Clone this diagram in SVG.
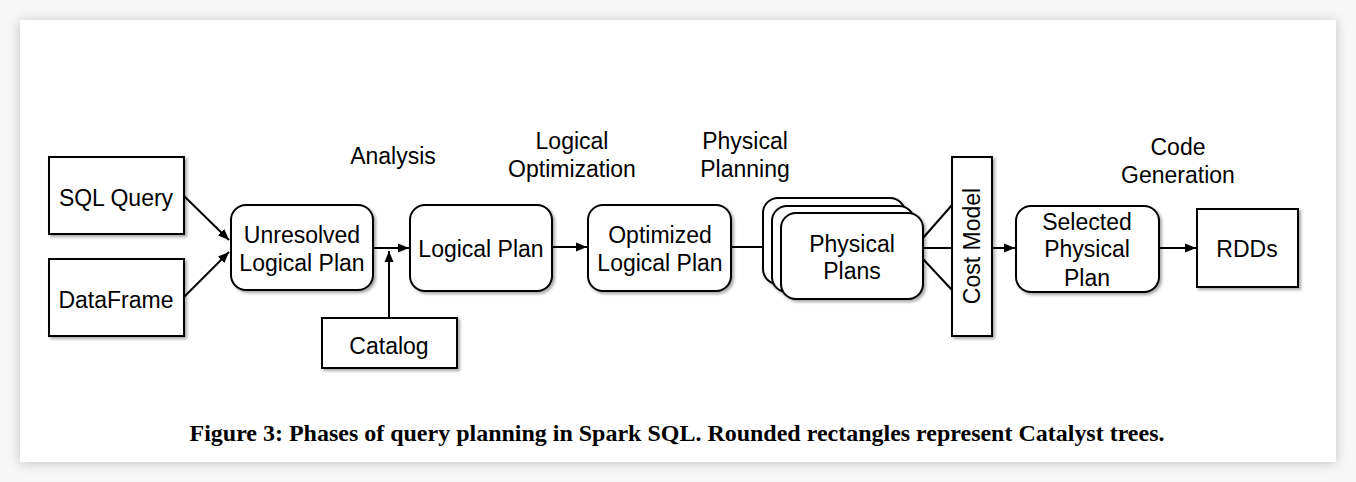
<svg xmlns="http://www.w3.org/2000/svg" width="1356" height="482" viewBox="0 0 1356 482">
<defs>
<filter id="card" x="-5%" y="-10%" width="110%" height="120%"><feDropShadow dx="0" dy="1" stdDeviation="6" flood-color="#000" flood-opacity="0.22"/></filter>
<filter id="sh" x="-10%" y="-10%" width="130%" height="130%"><feDropShadow dx="2" dy="2" stdDeviation="1.5" flood-color="#000" flood-opacity="0.35"/></filter>
<marker id="ah" viewBox="0 0 11 10" refX="11" refY="5" markerWidth="11" markerHeight="10" markerUnits="userSpaceOnUse" orient="auto"><path d="M0,0.5 L11,5 L0,9.5 z" fill="#000"/></marker>
</defs>
<style>
.b{fill:#fff;stroke:#000;stroke-width:2;filter:url(#sh)}
.t{font-family:"Liberation Sans",Arial,sans-serif;font-size:23px;fill:#000;text-anchor:middle}
.c{stroke:#000;stroke-width:2;fill:none}
.a{stroke:#000;stroke-width:2;fill:none;marker-end:url(#ah)}
.cap{font-family:"Liberation Serif","Times New Roman",serif;font-weight:bold;font-size:23px;text-anchor:middle;fill:#000}
</style>
<rect width="1356" height="482" fill="#f7f7f7"/>
<rect x="20" y="20" width="1316" height="442" fill="#fff" filter="url(#card)"/>
<g id="labels">
<text class="t" x="393" y="164">Analysis</text>
<text class="t" x="572" y="149">Logical</text>
<text class="t" x="572" y="177">Optimization</text>
<text class="t" x="745" y="149">Physical</text>
<text class="t" x="745" y="177">Planning</text>
<text class="t" x="1178" y="155">Code</text>
<text class="t" x="1178" y="183">Generation</text>
</g>
<g id="connectors">
<path class="a" d="M184,196 L229,240"/>
<path class="a" d="M184,297 L229,252"/>
<path class="a" d="M373,248 L409,248"/>
<path class="a" d="M389,318 L389,251"/>
<path class="a" d="M552,247 L587,247"/>
<path class="a" d="M731,247 L780,247"/>
<path class="c" d="M923,238 L952,205"/>
<path class="c" d="M923,248 L952,248"/>
<path class="c" d="M923,259 L952,290"/>
<path class="a" d="M992,248 L1015,248"/>
<path class="a" d="M1159,248 L1196,248"/>
</g>
<g id="sql"><rect class="b" x="49" y="157" width="135" height="77"/><text class="t" x="116" y="206">SQL Query</text></g>
<g id="dataframe"><rect class="b" x="49" y="259" width="135" height="77"/><text class="t" x="116" y="308">DataFrame</text></g>
<g id="unresolved"><rect class="b" x="231" y="205" width="142" height="85" rx="15"/><text class="t" x="302" y="243">Unresolved</text><text class="t" x="302" y="271">Logical Plan</text></g>
<g id="catalog"><rect class="b" x="322" y="318" width="135" height="50"/><text class="t" x="389" y="354">Catalog</text></g>
<g id="logical"><rect class="b" x="410" y="205" width="142" height="86" rx="15"/><text class="t" x="481" y="257">Logical Plan</text></g>
<g id="optimized"><rect class="b" x="588" y="205" width="143" height="86" rx="15"/><text class="t" x="660" y="243">Optimized</text><text class="t" x="660" y="271">Logical Plan</text></g>
<g id="physical">
<rect class="b" x="763" y="198" width="142" height="86" rx="15"/>
<rect class="b" x="772" y="206" width="142" height="86" rx="15"/>
<rect class="b" x="781" y="213" width="142" height="86" rx="15"/>
<text class="t" x="852" y="252">Physical</text><text class="t" x="852" y="279">Plans</text>
</g>
<g id="costmodel"><rect class="b" x="952" y="157" width="40" height="179"/><text class="t" transform="translate(980,246) rotate(-90)" x="0" y="0">Cost Model</text></g>
<g id="selected"><rect class="b" x="1016" y="206" width="143" height="86" rx="15"/><text class="t" x="1087" y="230">Selected</text><text class="t" x="1087" y="257">Physical</text><text class="t" x="1087" y="286">Plan</text></g>
<g id="rdds"><rect class="b" x="1197" y="209" width="101" height="78"/><text class="t" x="1247" y="257">RDDs</text></g>
<text class="cap" x="677" y="441" textLength="975" lengthAdjust="spacingAndGlyphs">Figure 3: Phases of query planning in Spark SQL. Rounded rectangles represent Catalyst trees.</text>
</svg>
